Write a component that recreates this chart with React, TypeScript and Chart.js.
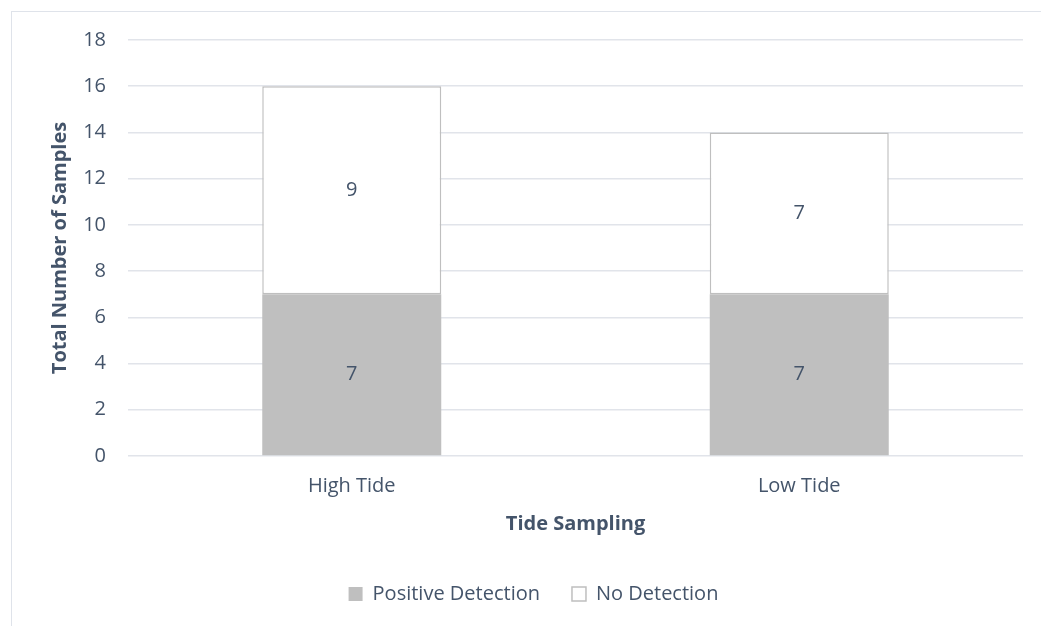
import React, { useEffect, useRef } from "react";
import { Chart, registerables } from "chart.js";

Chart.register(...registerables);

const categories = ["High Tide", "Low Tide"];
const positiveDetection = [7, 7];
const noDetection = [9, 7];
const yTicks = [0, 2, 4, 6, 8, 10, 12, 14, 16, 18];

const TEXT = "#44546a";
const FONT = "'Open Sans'";

const valueLabels = {
  id: "valueLabels",
  afterDatasetsDraw(chart: any) {
    const ctx = chart.ctx;
    ctx.save();
    ctx.fillStyle = TEXT;
    ctx.font = `20px ${FONT}`;
    ctx.textAlign = "center";
    ctx.textBaseline = "middle";
    chart.data.datasets.forEach((ds: any, i: number) => {
      const meta = chart.getDatasetMeta(i);
      meta.data.forEach((el: any, j: number) => {
        const { x, y, base } = el.getProps(["x", "y", "base"], true);
        ctx.fillText(String(ds.data[j]), x, (y + base) / 2);
      });
    });
    ctx.restore();
  },
};

export default function App() {
  const ref = useRef<HTMLCanvasElement>(null);
  useEffect(() => {
    if (!ref.current) return;
    const chart = new Chart(ref.current, {
      type: "bar",
      data: {
        labels: categories,
        datasets: [
          {
            label: "Positive Detection",
            data: positiveDetection,
            backgroundColor: "#bfbfbf",
            borderColor: "#bfbfbf",
            borderWidth: 0,
          },
          {
            label: "No Detection",
            data: noDetection,
            backgroundColor: "#ffffff",
            borderColor: "#bfbfbf",
            borderWidth: 1.5,
            borderSkipped: false,
          },
        ],
      },
      options: {
        animation: false,
        responsive: false,
        maintainAspectRatio: false,
        layout: { padding: { top: 40, right: 18, left: 44, bottom: 12 } },
        datasets: { bar: { categoryPercentage: 1, barPercentage: 0.4 } },
        plugins: {
          tooltip: { enabled: false },
          legend: {
            position: "bottom",
            labels: {
              color: TEXT,
              font: { family: FONT, size: 20 },
              boxWidth: 14,
              boxHeight: 14,
              padding: 32,
            },
          },
        },
        scales: {
          x: {
            stacked: true,
            grid: { display: false, drawTicks: false },
            border: { display: false },
            ticks: { color: TEXT, font: { family: FONT, size: 20 }, padding: 18 },
            title: {
              display: true,
              text: "Tide Sampling",
              color: TEXT,
              font: { family: FONT, size: 20, weight: "bold" },
              padding: { top: 0, bottom: 16 },
            },
            afterFit(scale: any) {
              scale.height = 96;
            },
          },
          y: {
            stacked: true,
            min: 0,
            max: 18,
            afterBuildTicks(scale: any) {
              scale.ticks = yTicks.map((v) => ({ value: v }));
            },
            grid: { color: "#e1e4ea", lineWidth: 1.5, drawTicks: false },
            border: { display: false },
            ticks: { color: TEXT, font: { family: FONT, size: 20 }, padding: 22 },
            title: {
              display: true,
              text: "Total Number of Samples",
              color: TEXT,
              font: { family: FONT, size: 20, weight: "bold" },
              padding: { top: 4, bottom: 0 },
            },
            afterFit(scale: any) {
              scale.width = 84;
            },
          },
        },
      },
      plugins: [valueLabels],
    });
    return () => chart.destroy();
  }, []);

  return (
    <div style={{ position: "fixed", left: 0, top: 0, width: 1041, height: 626, background: "#fff" }}>
      <div
        style={{
          position: "absolute",
          left: 11,
          top: 11,
          width: 1040,
          height: 630,
          borderLeft: "1.5px solid #dfe3ea",
          borderTop: "1.5px solid #dfe3ea",
          boxSizing: "border-box",
        }}
      />
      <canvas ref={ref} width={1041} height={626} style={{ position: "absolute", left: 0, top: 0, width: 1041, height: 626 }} />
    </div>
  );
}
